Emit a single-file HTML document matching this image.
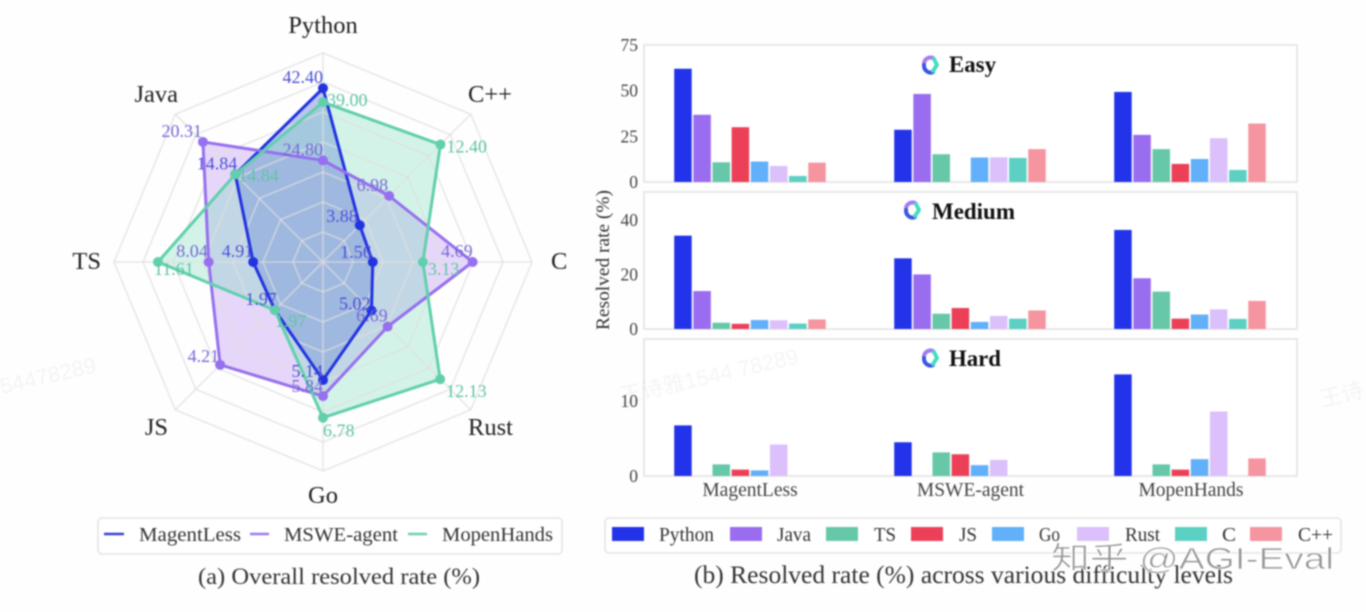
<!DOCTYPE html>
<html lang="en">
<head>
<meta charset="utf-8">
<title>Resolved rate charts</title>
<style>
html,body{margin:0;padding:0;background:#fefefe;width:1366px;height:612px;overflow:hidden}
#chart{display:block;filter:blur(0.7px);font-family:"Liberation Serif","Noto Serif CJK SC",serif}
</style>
</head>
<body>
<svg id="chart" xmlns="http://www.w3.org/2000/svg" width="1366" height="612" viewBox="0 0 1366 612">
  <rect x="0" y="0" width="1366" height="612" fill="#fefefe"/>
  <g id="radar"></g>
  <g id="bars"></g>
  <g font-family="'Liberation Sans','Noto Sans CJK SC',sans-serif" font-size="22" fill="#f5f5f5" style="mix-blend-mode:multiply">
    <text x="2" y="394" transform="rotate(-13 2 394)">54478289</text>
    <text x="622" y="404" transform="rotate(-13 622 404)">王诗雅1544 78289</text>
    <text x="1322" y="407" transform="rotate(-13 1322 407)">王诗</text>
  </g>

  <g>
    <rect x="98" y="518" width="464" height="36" rx="4" fill="#fff" stroke="#e4e4e4" stroke-width="1.6"/>
    <line x1="104" y1="534" x2="124" y2="534" stroke="#3a42d0" stroke-width="2.4"/>
    <text x="139" y="541" font-size="20.5" fill="#333" textLength="102" lengthAdjust="spacingAndGlyphs">MagentLess</text>
    <line x1="250" y1="534" x2="269" y2="534" stroke="#9a7cf0" stroke-width="2.4"/>
    <text x="284" y="541" font-size="20.5" fill="#333" textLength="114" lengthAdjust="spacingAndGlyphs">MSWE-agent</text>
    <line x1="408" y1="534" x2="427" y2="534" stroke="#6fd0b0" stroke-width="2.4"/>
    <text x="442" y="541" font-size="20.5" fill="#333" textLength="111" lengthAdjust="spacingAndGlyphs">MopenHands</text>
  </g>
  <text x="198" y="584" font-size="23.5" fill="#333" textLength="282" lengthAdjust="spacingAndGlyphs">(a) Overall resolved rate (%)</text>

  <g id="bar-legend">
    <rect x="605" y="518" width="736" height="35" rx="4" fill="#fff" stroke="#e4e4e4" stroke-width="1.6"/>
  </g>
  <text x="694" y="583" font-size="25" fill="#333" textLength="539" lengthAdjust="spacingAndGlyphs">(b) Resolved rate (%) across various difficulty levels</text>
  <text transform="translate(609 260) rotate(-90)" text-anchor="middle" font-size="19" fill="#333" textLength="140" lengthAdjust="spacingAndGlyphs">Resolved rate (%)</text>

  <text x="1051" y="569" font-family="'Liberation Sans','Noto Sans CJK SC',sans-serif" font-size="31" fill="#939393" stroke="#ffffff" stroke-width="0.8" textLength="283" lengthAdjust="spacingAndGlyphs">知乎 @AGI-Eval</text>
</svg>
<script>
const radarAxes = ['Python', 'C++', 'C', 'Rust', 'Go', 'JS', 'TS', 'Java'];
const radarAxisMax = [51, 15.6, 6.55, 15.3, 9.1, 6.05, 14.7, 25];
const radarSeriesNames = ['MagentLess', 'MSWE-agent', 'MopenHands'];
const radarMopenHands = [39.00, 12.40, 3.13, 12.13, 6.78, 1.97, 11.61, 14.84];
const radarMsweAgent = [24.80, 6.98, 4.69, 6.69, 5.84, 4.21, 8.04, 20.31];
const radarMagentLess = [42.40, 3.88, 1.56, 5.02, 5.14, 1.97, 4.91, 14.84];

const barCategories = ['MagentLess', 'MSWE-agent', 'MopenHands'];
const barLanguages = ['Python', 'Java', 'TS', 'JS', 'Go', 'Rust', 'C', 'C++'];
const easyMagentLess = [62, 36.8, 10.8, 30, 11.2, 8.8, 3.3, 10.6];
const easyMsweAgent = [28.6, 48.2, 15.2, 0, 13.4, 13.5, 13.2, 18];
const easyMopenHands = [49.3, 25.8, 18, 9.9, 12.6, 24, 6.6, 32];
const mediumMagentLess = [34.2, 13.9, 2.3, 1.9, 3.3, 3.2, 2, 3.5];
const mediumMsweAgent = [25.9, 20, 5.6, 7.7, 2.6, 4.8, 3.8, 6.8];
const mediumMopenHands = [36.3, 18.6, 13.7, 3.8, 5.3, 7.2, 3.7, 10.3];
const hardMagentLess = [6.75, 0, 1.55, 0.85, 0.75, 4.2, 0, 0];
const hardMsweAgent = [4.5, 0, 3.15, 2.9, 1.45, 2.15, 0, 0];
const hardMopenHands = [13.55, 0, 1.55, 0.85, 2.25, 8.6, 0, 2.35];
const easyTicks = [0, 25, 50, 75];
const mediumTicks = [0, 20, 40];
const hardTicks = [0, 10];
const panelNames = ['Easy', 'Medium', 'Hard'];
const panelMax = [75, 50.2, 18.27];

const NS = 'http://www.w3.org/2000/svg';
function mk(tag, attrs, parent, txt) {
  const el = document.createElementNS(NS, tag);
  for (const k in attrs) el.setAttribute(k, attrs[k]);
  if (txt !== undefined) el.textContent = txt;
  parent.appendChild(el);
  return el;
}
function slug(s) {
  return String(s).toLowerCase().replace(/\+/g, 'p').replace(/[^a-z0-9]+/g, '-');
}

/* ---------- radar ---------- */
(function () {
  const root = document.getElementById('radar');
  const cx = 323, cy = 262, R = 209;
  const ringRadii = [30, 60, 90, 120, 150, 180, 209];
  const n = radarAxes.length;
  const polar = (i, r) => {
    const a = i / n * Math.PI * 2;
    return [cx + r * Math.sin(a), cy - r * Math.cos(a)];
  };
  const rScale = (i, v) => v / radarAxisMax[i] * R;
  const style = {
    'MopenHands': { line: '#62cfac', fill: '#5fd6ae', op: 0.27, label: '#5fc4a6', values: radarMopenHands },
    'MSWE-agent': { line: '#9670ee', fill: '#a56ff0', op: 0.27, label: '#7669d6', values: radarMsweAgent },
    'MagentLess': { line: '#2233e0', fill: '#2a3fd8', op: 0.3, label: '#4a50d8', values: radarMagentLess }
  };
  const offsets = {
    'MagentLess': [[0,-5,'end'],[-2,-3,'end'],[-1,-4,'end'],[-1,-1,'end'],[0,-3,'end'],[2,-5,'end'],[0,-5,'end'],[2,-5,'end']],
    'MSWE-agent': [[0,-5,'end'],[-1,-5,'end'],[0,-5,'end'],[0,-5,'end'],[0,-4,'end'],[-1,-3,'end'],[-1,-5,'end'],[-1,-5,'end']],
    'MopenHands': [[4,4,'start'],[6,8,'start'],[5,13,'start'],[6,18,'start'],[0,19,'start'],[0,17,'start'],[-4,13,'start'],[3,7,'start']]
  };
  const nameAnchors = ['middle', 'start', 'start', 'start', 'middle', 'end', 'end', 'end'];
  const nameSpots = [[323,33],[468,102],[551,269],[468,435],[323,503],[168,435],[101,269],[178,102]];

  radarSeriesNames.forEach(function (name) {
    const s = style[name];
    const pts = s.values.map((v, i) => polar(i, rScale(i, v)).join(',')).join(' ');
    const area = mk('polygon', { points: pts, fill: s.fill, 'fill-opacity': s.op, stroke: 'none' }, root);
    
    
  });

  ringRadii.forEach(function (r) {
    const pts = radarAxes.map((_, i) => polar(i, r).join(',')).join(' ');
    const ring = mk('polygon', { points: pts, fill: 'none', stroke: '#dedede', 'stroke-opacity': 0.7, 'stroke-width': 1.6 }, root);
    
    
  });
  radarAxes.forEach(function (label, i) {
    const e = polar(i, R);
    const spoke = mk('line', { x1: cx, y1: cy, x2: e[0], y2: e[1], stroke: '#dedede', 'stroke-opacity': 0.7, 'stroke-width': 1.6 }, root);
    
    
    const t = mk('text', { x: nameSpots[i][0], y: nameSpots[i][1], 'text-anchor': nameAnchors[i], 'font-size': 24.5, fill: '#222' }, root, label);
    
    
  });

  radarSeriesNames.forEach(function (name) {
    const s = style[name];
    const pts = s.values.map((v, i) => polar(i, rScale(i, v)).join(',')).join(' ');
    const line = mk('polygon', { points: pts, fill: 'none', stroke: s.line, 'stroke-width': 3, 'stroke-linejoin': 'round' }, root);
    
    
    s.values.forEach(function (v, i) {
      const p = polar(i, rScale(i, v));
      const dot = mk('circle', { cx: p[0], cy: p[1], r: 5, fill: s.line }, root);
      
      
    });
  });

  radarSeriesNames.forEach(function (name) {
    const s = style[name];
    s.values.forEach(function (v, i) {
      const p = polar(i, rScale(i, v));
      const o = offsets[name][i];
      const t = mk('text', { x: p[0] + o[0], y: p[1] + o[1], 'text-anchor': o[2], 'font-size': 18, fill: s.label }, root, v.toFixed(2));
      
      
    });
  });
})();

/* ---------- bars ---------- */
(function () {
  const root = document.getElementById('bars');
  const legend = document.getElementById('bar-legend');
  const colors = ['#2233ea', '#9a6cf0', '#66c8a8', '#ec4058', '#62b0fa', '#dcc0fb', '#5dd0c4', '#f595a0'];
  const series = [
    [easyMagentLess, easyMsweAgent, easyMopenHands],
    [mediumMagentLess, mediumMsweAgent, mediumMopenHands],
    [hardMagentLess, hardMsweAgent, hardMopenHands]
  ];
  const ticks = [easyTicks, mediumTicks, hardTicks];
  const frames = [{ top: 45, bottom: 182 }, { top: 192, bottom: 329 }, { top: 339, bottom: 476 }];
  const left = 644, right = 1297;
  const pitch = 19.15, barW = 17.5;
  const groupCenter = g => 750 + g * 220;
  const barX = (g, l) => groupCenter(g) + (l - barLanguages.length / 2) * pitch + 0.8;
  const yScale = (p, v) => frames[p].bottom - v / panelMax[p] * (frames[p].bottom - frames[p].top);
  const titleSpots = [[949, 72, 930, 65, 47], [932, 219, 912, 210, 83], [949, 366, 930, 358, 52]];

  panelNames.forEach(function (panel, p) {
    const f = frames[p];
    const frame = mk('rect', { x: left, y: f.top, width: right - left, height: f.bottom - f.top, fill: '#fff', stroke: '#e6e6e6', 'stroke-width': 1.8 }, root);
    
    

    ticks[p].forEach(function (tv) {
      const t = mk('text', { x: 638, y: yScale(p, tv) + 6, 'text-anchor': 'end', 'font-size': 17.5, fill: '#444' }, root, tv);
      
      
    });

    series[p].forEach(function (vals, g) {
      vals.forEach(function (v, l) {
        const y = yScale(p, v);
        const b = mk('rect', { x: barX(g, l), y: y, width: barW, height: f.bottom - y, fill: colors[l] }, root);
        
        
      });
    });

    const s = titleSpots[p];
    const icon = mk('g', { transform: 'translate(' + s[2] + ' ' + s[3] + ')', fill: 'none', 'stroke-width': 4, 'stroke-linecap': 'round' }, root);
    
    
    mk('path', { d: 'M-6 -1 A6.5 6.5 0 0 1 3 -7', stroke: '#a57cf2' }, icon);
    mk('path', { d: 'M-6 0 A6.5 7 0 0 0 3 7', stroke: '#3a55e0' }, icon);
    mk('path', { d: 'M4 -6 L7 0 L3 6', stroke: '#45dcc4', 'stroke-linejoin': 'round' }, icon);
    const title = mk('text', { x: s[0], y: s[1], 'font-size': 23, 'font-weight': 'bold', fill: '#111', textLength: s[4], lengthAdjust: 'spacingAndGlyphs' }, root, panel);
    
    
  });

  barCategories.forEach(function (c, g) {
    const t = mk('text', { x: groupCenter(g) + (g === 2 ? 1 : g === 1 ? 0.5 : 0), y: 496, 'text-anchor': 'middle', 'font-size': 19.5, fill: '#444' }, root, c);
    
    
  });

  const swatchX = [612, 730, 826, 911, 992, 1077, 1175, 1250];
  const labelX = [659, 777, 874, 959, 1039, 1125, 1222, 1298];
  const labelW = [55, 34, 22, 18, 21, 35, 14, 35];
  barLanguages.forEach(function (lang, l) {
    const sw = mk('rect', { x: swatchX[l], y: 527, width: 32, height: 14, fill: colors[l] }, legend);
    
    
    const t = mk('text', { x: labelX[l], y: 541, 'font-size': 19.5, fill: '#333', textLength: labelW[l], lengthAdjust: 'spacingAndGlyphs' }, legend, lang);
    
    
  });
})();
</script>
</body>
</html>
